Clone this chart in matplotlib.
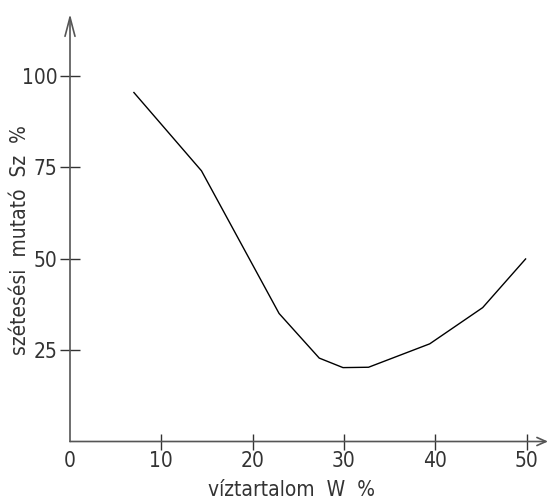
import matplotlib
matplotlib.use("Agg")
import matplotlib.pyplot as plt

# viztartalom W % vs szetesesi mutato Sz %
w = [7.0, 14.4, 22.9, 27.3, 29.9, 32.7, 39.4, 45.2, 49.9]
sz = [95.4, 74.0, 35.0, 22.8, 20.2, 20.3, 26.7, 36.6, 49.9]
xticks = [0, 10, 20, 30, 40, 50]
yticks = [25, 50, 75, 100]

plt.rcParams['font.family'] = ['DejaVu Sans']
W, H = 548, 499
fig = plt.figure(figsize=(W / 100, H / 100), dpi=100)
x0, x1 = 70, 548
y0, y1 = 441.5, 14
ax = fig.add_axes([x0 / W, 1 - y0 / H, (x1 - x0) / W, (y0 - y1) / H])
ax.set_xlim(0, (x1 - x0) / 9.13)
ax.set_ylim(0, (y0 - y1) / 3.658)

ax.plot(w, sz, color="black", lw=1.0)

for s in ax.spines.values():
    s.set_visible(False)
gray = "#555555"
# axes with open arrow heads
ax.annotate("", xy=(1, 0), xytext=(0, 0), xycoords="axes fraction",
            arrowprops=dict(arrowstyle="->,head_length=0.65,head_width=0.29", color=gray, lw=1.2,
                            mutation_scale=10, shrinkA=0, shrinkB=0),
            annotation_clip=False)
ax.annotate("", xy=(0, 1), xytext=(0, 0), xycoords="axes fraction",
            arrowprops=dict(arrowstyle="->,head_length=1.37,head_width=0.36", color=gray, lw=1.2,
                            mutation_scale=10, shrinkA=0, shrinkB=0),
            annotation_clip=False)

tf = dict(fontsize=15, fontweight=200, fontstretch="condensed", color="#333333")
ax.set_xticks(xticks)
ax.set_xticklabels([str(t) for t in xticks], **tf)
ax.set_yticks(yticks)
ax.set_yticklabels([str(t) for t in yticks], **tf)
ax.tick_params(axis="x", direction="inout", length=12, width=1, color="#333333", pad=1)
ax.tick_params(axis="y", direction="inout", length=14, width=1, color="#333333", pad=2)
ax.xaxis.get_major_ticks()[0].tick1line.set_visible(False)

fig.text(292 / W, 1 - 490 / H, "víztartalom  W  %", ha="center", va="center", **tf)
fig.text(20 / W, 1 - 240 / H, "szétesési  mutató  Sz  %", ha="center", va="center",
         rotation=90, **tf)

fig.savefig("out.png", dpi=100)
